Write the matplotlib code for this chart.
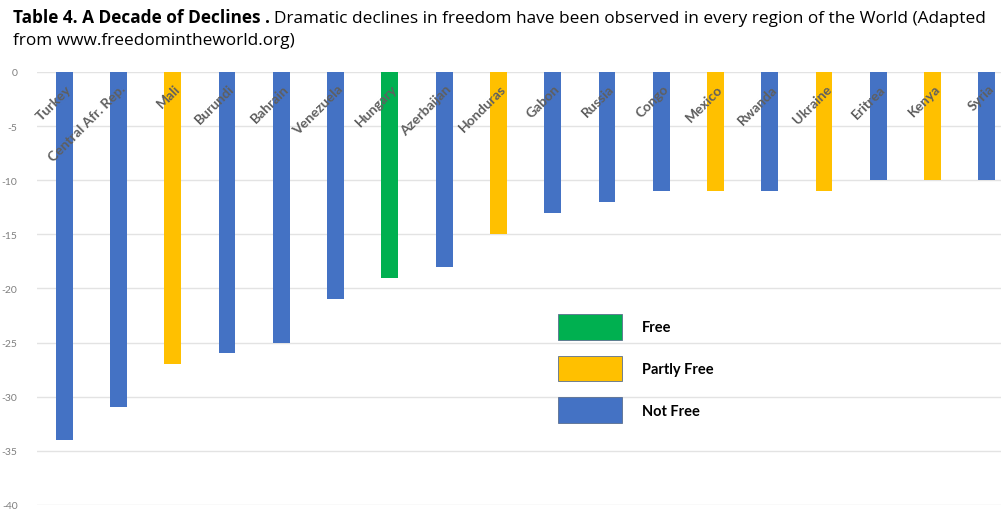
import matplotlib
matplotlib.use('Agg')
import matplotlib.pyplot as plt
from matplotlib.patches import Patch

# data
countries = ['Turkey', 'Central Afr. Rep.', 'Mali', 'Burundi', 'Bahrain', 'Venezuela',
             'Hungary', 'Azerbaijan', 'Honduras', 'Gabon', 'Russia', 'Congo',
             'Mexico', 'Rwanda', 'Ukraine', 'Eritrea', 'Kenya', 'Syria']
declines = [-34, -31, -27, -26, -25, -21, -19, -18, -15, -13, -12, -11, -11, -11, -11, -10, -10, -10]
status = ['Not Free', 'Not Free', 'Partly Free', 'Not Free', 'Not Free', 'Not Free',
          'Free', 'Not Free', 'Partly Free', 'Not Free', 'Not Free', 'Not Free',
          'Partly Free', 'Not Free', 'Partly Free', 'Not Free', 'Partly Free', 'Not Free']
yticks = [0, -5, -10, -15, -20, -25, -30, -35, -40]

colors = {'Free': '#00b050', 'Partly Free': '#ffc000', 'Not Free': '#4472c4'}

plt.rcParams['font.family'] = ['Lato', 'DejaVu Sans']

fig = plt.figure(figsize=(10.01, 5.10), dpi=100)
ax = fig.add_axes([0.037, 0.008, 0.963, 0.849])

x = list(range(len(countries)))
ax.bar(x, declines, width=0.31, color=[colors[s] for s in status], zorder=3)

ax.set_xlim(-0.5, 17.26)
ax.set_ylim(-40, 0)
ax.set_yticks(yticks)
ax.set_yticklabels([str(v) for v in yticks], fontsize=7.5, color='#7f7f7f')
ax.tick_params(axis='y', length=0, pad=14)
ax.set_xticks([])
ax.grid(axis='y', color='#e3e3e3', linewidth=1, zorder=0)
for s in ax.spines.values():
    s.set_visible(False)

# country names sit inside the plot, rotated, ending at the top of each bar
for xi, name in zip(x, countries):
    ax.text(xi + 0.02, -0.95, name, rotation=45, rotation_mode='anchor',
            ha='right', va='top', fontsize=10, fontweight='bold',
            color='#5f5f5f', zorder=4)

handles = [Patch(facecolor=colors[k], edgecolor='#5a6f8f', linewidth=0.6, label=k)
           for k in ['Free', 'Partly Free', 'Not Free']]
leg = fig.legend(handles=handles, loc='upper left', bbox_to_anchor=(558 / 1001, 1 - 315 / 510),
                 frameon=False, prop={'weight': 'bold', 'size': 10.5},
                 handlelength=4.38, handleheight=2.32, labelspacing=1.1,
                 handletextpad=1.37, borderpad=0, borderaxespad=0)

# title: bold lead-in followed by normal text
t1 = fig.text(13 / 1001, 1 - 23 / 510, 'Table 4. A Decade of Declines .', fontsize=12.4,
              fontweight='bold', color='#000000', va='baseline', family='Open Sans')
fig.canvas.draw()
bb = t1.get_window_extent()
fig.text((bb.x1 + 4) / 1001, 1 - 23 / 510,
         'Dramatic declines in freedom have been observed in every region of the World (Adapted',
         fontsize=12.4, color='#000000', va='baseline', family='Open Sans')
fig.text(13 / 1001, 1 - 45 / 510, 'from www.freedomintheworld.org)', fontsize=12.4,
         color='#000000', va='baseline', family='Open Sans')

fig.savefig('out.png', dpi=100)
